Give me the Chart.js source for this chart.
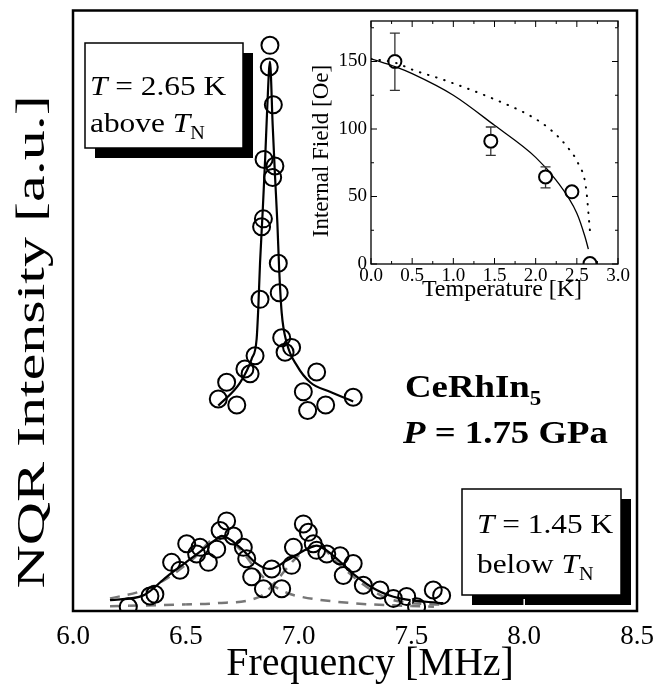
<!DOCTYPE html>
<html>
<head>
<meta charset="utf-8">
<script src="https://cdn.jsdelivr.net/npm/chart.js@4.4.1/dist/chart.umd.min.js"></script>
<style>
  html, body { margin: 0; padding: 0; background: #fff; }
  #wrap { position: relative; width: 667px; height: 700px; background: #fff; }
  #main { position: absolute; left: 0; top: 0; }
  #inset { position: absolute; left: 300px; top: 0; }
</style>
</head>
<body>
<div id="wrap">
  <canvas id="main" width="667" height="700"></canvas>
  <canvas id="inset" width="340" height="310"></canvas>
</div>
<script>
// --- Main spectra (frequency in MHz, intensity in arbitrary units 0..100) ---
const upperFreq = [6.873, 6.870, 6.888, 6.847, 6.895, 6.885, 6.844, 6.836, 6.910, 6.914, 6.829, 6.925, 6.969, 6.940, 6.807, 6.762, 6.785, 7.080, 6.681, 7.021, 6.644, 6.726, 7.040, 7.120, 7.242];
const upperInt  = [94.2, 90.6, 84.3, 75.2, 74.1, 72.2, 65.3, 64.0, 57.9, 53.0, 51.9, 45.5, 43.9, 43.1, 42.5, 40.3, 39.5, 39.8, 38.1, 36.5, 35.3, 34.3, 33.4, 34.3, 35.6];

const upperFitFreq = [6.644, 6.740, 6.792, 6.814, 6.821, 6.829, 6.841, 6.852, 6.861, 6.873, 6.885, 6.895, 6.906, 6.914, 6.925, 6.947, 6.992, 7.051, 7.139, 7.242];
const upperFitInt  = [34.2, 38.0, 42.0, 45.3, 50.2, 57.9, 66.7, 75.5, 83.8, 91.5, 81.0, 72.8, 64.5, 56.8, 49.7, 44.7, 40.9, 38.1, 36.5, 34.9];

const lowerFreq = [6.245, 6.341, 6.363, 6.437, 6.474, 6.504, 6.548, 6.563, 6.600, 6.637, 6.652, 6.681, 6.711, 6.755, 6.770, 6.792, 6.844, 6.881, 6.925, 6.969, 6.977, 7.021, 7.043, 7.065, 7.080, 7.125, 7.184, 7.242, 7.198, 7.287, 7.361, 7.420, 7.479, 7.523, 7.597, 7.634];
const lowerInt  = [0.7, 2.5, 2.8, 8.1, 6.8, 11.2, 9.5, 10.6, 8.1, 10.3, 13.4, 15.0, 12.5, 10.6, 8.7, 5.7, 3.7, 7.0, 3.7, 7.6, 10.6, 14.5, 13.1, 11.2, 10.1, 9.5, 9.2, 7.9, 5.9, 4.3, 3.5, 2.1, 2.4, 0.7, 3.5, 2.6];

const lowerFitFreq = [6.164, 6.312, 6.415, 6.533, 6.637, 6.659, 6.740, 6.814, 6.873, 6.947, 7.036, 7.080, 7.154, 7.242, 7.346, 7.449, 7.641];
const lowerFitInt  = [1.8, 2.6, 5.7, 9.0, 12.0, 12.5, 10.6, 7.9, 7.0, 8.4, 10.3, 10.9, 9.2, 6.2, 3.5, 2.1, 1.3];

const compAFreq = [6.164, 6.300, 6.415, 6.530, 6.644, 6.740, 6.814, 6.873, 6.950, 7.006, 7.242, 7.600];
const compAInt  = [2.1, 3.3, 5.4, 8.6, 12.3, 10.3, 6.8, 4.6, 3.0, 2.4, 1.3, 0.7];
const compBFreq = [6.164, 6.400, 6.637, 6.829, 6.903, 6.977, 7.036, 7.080, 7.184, 7.302, 7.420, 7.656];
const compBInt  = [0.8, 1.0, 1.3, 2.4, 5.1, 8.4, 10.3, 10.9, 7.6, 4.0, 1.8, 1.0];

const freqTicks = [6.0, 6.5, 7.0, 7.5, 8.0, 8.5];
const freqMinorTicks = [6.25, 6.75, 7.25, 7.75, 8.25];

// --- Inset: internal field vs temperature ---
const insetTemp    = [0.29, 1.455, 2.12, 2.44, 2.66];
const insetField   = [150, 91, 64.5, 53.5, 0.3];
const insetErrLow  = [128.6, 80.5, 56.4, null, null];
const insetErrHigh = [171, 101.5, 72, null, null];

const solidTemp  = [0, 0.3, 0.5, 1.0, 1.5, 2.0, 2.25, 2.5, 2.6, 2.64];
const solidField = [152, 146, 141, 125, 102.7, 79, 62, 37.6, 20, 11];
const dottedTemp  = [0, 0.3, 0.5, 0.9, 1.5, 1.97, 2.19, 2.38, 2.52, 2.61, 2.66];
const dottedField = [152, 149, 144, 136, 122, 108.5, 99, 87, 74, 57, 24];

const tempTicks = [0, 0.5, 1.0, 1.5, 2.0, 2.5, 3.0];
const tempMinorTicks = [0.25, 0.75, 1.25, 1.75, 2.25, 2.75];
const fieldTicks = [0, 50, 100, 150];
const fieldMinorTicks = [25, 75, 125, 175];

const SERIF = '"Liberation Serif", "Times New Roman", serif';
const toXY = (xs, ys) => xs.map((x, i) => ({ x: x, y: ys[i] }));

// draw a row of text runs, stretched horizontally like the printed figure
function drawRuns(ctx, x, y, runs, sx) {
    ctx.save();
    ctx.translate(x, y);
    ctx.scale(sx, 1);
    let cx = 0;
    runs.forEach(r => {
        ctx.font = r.font;
        ctx.fillText(r.text, cx, r.dy || 0);
        cx += ctx.measureText(r.text).width;
    });
    ctx.restore();
}

// centred text, optionally rotated and stretched along its length
function drawTitle(ctx, text, x, y, font, rot, stretch) {
    ctx.save();
    ctx.translate(x, y);
    ctx.rotate(rot);
    ctx.scale(stretch, 1);
    ctx.font = font;
    ctx.textAlign = 'center';
    ctx.textBaseline = 'middle';
    ctx.fillStyle = '#000';
    ctx.fillText(text, 0, 0);
    ctx.restore();
}

function shadowBox(ctx, x, y, w, h, off) {
    ctx.fillStyle = '#000';
    ctx.fillRect(x + off, y + off, w, h);
    ctx.fillStyle = '#fff';
    ctx.fillRect(x, y, w, h);
    ctx.strokeStyle = '#000';
    ctx.lineWidth = 1.5;
    ctx.strokeRect(x, y, w, h);
}

const mainFrame = {
    id: 'mainFrame',
    afterDraw(chart) {
        const { ctx, chartArea: a, scales: { x } } = chart;
        ctx.save();
        // annotation boxes
        shadowBox(ctx, 85, 43, 158, 105, 10);
        shadowBox(ctx, 462, 489, 159, 106, 10);
        ctx.fillStyle = '#000';
        ctx.textBaseline = 'alphabetic';
        const reg = '28px ' + SERIF, ital = 'italic 28px ' + SERIF, sub = '18px ' + SERIF;
        drawRuns(ctx, 90, 95, [{ text: 'T', font: ital }, { text: ' = 2.65 K', font: reg }], 1.12);
        drawRuns(ctx, 90, 132, [{ text: 'above ', font: reg }, { text: 'T', font: ital }, { text: 'N', font: sub, dy: 7 }], 1.12);
        drawRuns(ctx, 477, 533, [{ text: 'T', font: ital }, { text: ' = 1.45 K', font: reg }], 1.12);
        drawRuns(ctx, 477, 573, [{ text: 'below ', font: reg }, { text: 'T', font: ital }, { text: 'N', font: sub, dy: 7 }], 1.12);
        // sample label
        const bold = 'bold 32px ' + SERIF;
        drawRuns(ctx, 405, 397, [{ text: 'CeRhIn', font: bold }, { text: '5', font: 'bold 20px ' + SERIF, dy: 8 }], 1.15);
        drawRuns(ctx, 403, 443, [{ text: 'P', font: 'italic bold 32px ' + SERIF }, { text: ' = 1.75 GPa', font: bold }], 1.15);

        // axis titles
        drawTitle(ctx, 'Frequency [MHz]', 370, 664, '40px ' + SERIF, 0, 1);
        drawTitle(ctx, 'NQR Intensity [a.u.]', 33, 342, '40px ' + SERIF, -Math.PI / 2, 1.5);

        // inward ticks (inverted where they cross the black shadow)
        ctx.globalCompositeOperation = 'difference';
        ctx.strokeStyle = '#fff';
        ctx.lineWidth = 1.5;
        const tick = (v, len) => {
            const px = x.getPixelForValue(v);
            ctx.beginPath();
            ctx.moveTo(px, a.bottom - 1); ctx.lineTo(px, a.bottom - len);
            ctx.moveTo(px, a.top + 1); ctx.lineTo(px, a.top + len);
            ctx.stroke();
        };
        freqTicks.slice(1, -1).forEach(v => tick(v, 12));
        freqMinorTicks.forEach(v => tick(v, 6));
        ctx.globalCompositeOperation = 'source-over';

        // frame
        ctx.strokeStyle = '#000';
        ctx.lineWidth = 2.5;
        ctx.strokeRect(a.left, a.top, a.width, a.height);
        ctx.restore();
    }
};

const lineSet = (data, color, width, dash) => ({
    data: data, showLine: true, pointRadius: 0, borderColor: color, borderWidth: width,
    borderDash: dash || [], cubicInterpolationMode: 'monotone', fill: false
});
const circleSet = (data, r) => ({
    data: data, showLine: false, pointRadius: r, pointBorderWidth: 2, pointBorderColor: '#000',
    pointBackgroundColor: 'rgba(0,0,0,0)', pointStyle: 'circle'
});

new Chart(document.getElementById('main'), {
    type: 'scatter',
    data: {
        datasets: [
            circleSet(toXY(upperFreq, upperInt), 8.5),
            circleSet(toXY(lowerFreq, lowerInt), 8.5),
            lineSet(toXY(upperFitFreq, upperFitInt), '#000', 2.2),
            lineSet(toXY(lowerFitFreq, lowerFitInt), '#000', 2.2),
            lineSet(toXY(compAFreq, compAInt), '#777', 2.5, [10, 8]),
            lineSet(toXY(compBFreq, compBInt), '#777', 2.5, [10, 8])
        ]
    },
    options: {
        responsive: false, animation: false, devicePixelRatio: 1,
        layout: { padding: { top: 5, right: 30, left: 0, bottom: 0 } },
        plugins: { legend: { display: false }, tooltip: { enabled: false } },
        scales: {
            x: {
                type: 'linear', min: 6, max: 8.5,
                afterBuildTicks: s => { s.ticks = freqTicks.map(v => ({ value: v })); },
                afterFit: s => { s.height = 89; },
                grid: { display: false, drawTicks: false }, border: { display: false },
                ticks: { color: '#000', padding: 10, font: { family: SERIF, size: 27 }, callback: v => v.toFixed(1), maxRotation: 0 },
                title: { display: false }
            },
            y: {
                min: 0, max: 100,
                afterFit: s => { s.width = 73; },
                grid: { display: false, drawTicks: false }, border: { display: false },
                ticks: { display: false },
                title: { display: false }
            }
        }
    },
    plugins: [mainFrame]
});

// --- Inset ---
const insetDecor = {
    id: 'insetDecor',
    afterDatasetsDraw(chart) {
        const { ctx, chartArea: a, scales: { x, y } } = chart;
        ctx.save();
        // error bars
        ctx.strokeStyle = '#333';
        ctx.lineWidth = 1.3;
        insetTemp.forEach((t, i) => {
            if (insetErrLow[i] == null) return;
            const px = x.getPixelForValue(t);
            const lo = y.getPixelForValue(insetErrLow[i]), hi = y.getPixelForValue(insetErrHigh[i]);
            const pc = y.getPixelForValue(insetField[i]);
            ctx.beginPath();
            ctx.moveTo(px, hi); ctx.lineTo(px, pc - 7);
            ctx.moveTo(px, pc + 7); ctx.lineTo(px, lo);
            ctx.moveTo(px - 5, hi); ctx.lineTo(px + 5, hi);
            ctx.moveTo(px - 5, lo); ctx.lineTo(px + 5, lo);
            ctx.stroke();
        });
        // inward ticks
        ctx.strokeStyle = '#000';
        ctx.lineWidth = 1;
        const xt = (v, len) => {
            const px = x.getPixelForValue(v);
            ctx.beginPath();
            ctx.moveTo(px, a.bottom); ctx.lineTo(px, a.bottom - len);
            ctx.moveTo(px, a.top); ctx.lineTo(px, a.top + len);
            ctx.stroke();
        };
        const yt = (v, len) => {
            const py = y.getPixelForValue(v);
            ctx.beginPath();
            ctx.moveTo(a.left, py); ctx.lineTo(a.left + len, py);
            ctx.moveTo(a.right, py); ctx.lineTo(a.right - len, py);
            ctx.stroke();
        };
        tempTicks.forEach(v => xt(v, 6));
        tempMinorTicks.forEach(v => xt(v, 3));
        fieldTicks.forEach(v => yt(v, 6));
        fieldMinorTicks.forEach(v => yt(v, 3));
        ctx.lineWidth = 1.3;
        ctx.strokeRect(a.left, a.top, a.width, a.height);
        // axis titles
        drawTitle(ctx, 'Temperature [K]', 202, 290, '24px ' + SERIF, 0, 1);
        drawTitle(ctx, 'Internal Field [Oe]', 22, 151, '23px ' + SERIF, -Math.PI / 2, 1);
        ctx.restore();
    }
};

new Chart(document.getElementById('inset'), {
    type: 'scatter',
    data: {
        datasets: [
            circleSet(toXY(insetTemp, insetField), 6.5),
            lineSet(toXY(solidTemp, solidField), '#000', 1.3),
            Object.assign(lineSet(toXY(dottedTemp, dottedField), '#000', 2, [0.5, 8]), { borderCapStyle: 'round' })
        ]
    },
    options: {
        responsive: false, animation: false, devicePixelRatio: 1,
        layout: { padding: { top: 21, right: 22, left: 0, bottom: 0 } },
        plugins: { legend: { display: false }, tooltip: { enabled: false } },
        scales: {
            x: {
                type: 'linear', min: 0, max: 3,
                afterBuildTicks: s => { s.ticks = tempTicks.map(v => ({ value: v })); },
                afterFit: s => { s.height = 46; },
                grid: { display: false, drawTicks: false }, border: { display: false },
                ticks: { color: '#000', padding: 1, font: { family: SERIF, size: 19 }, callback: v => v.toFixed(1), maxRotation: 0 },
                title: { display: false }
            },
            y: {
                min: 0, max: 180,
                afterBuildTicks: s => { s.ticks = fieldTicks.map(v => ({ value: v })); },
                afterFit: s => { s.width = 71; },
                grid: { display: false, drawTicks: false }, border: { display: false },
                ticks: { color: '#000', padding: 4, font: { family: SERIF, size: 19 } },
                title: { display: false }
            }
        }
    },
    plugins: [insetDecor]
});
</script>
</body>
</html>
